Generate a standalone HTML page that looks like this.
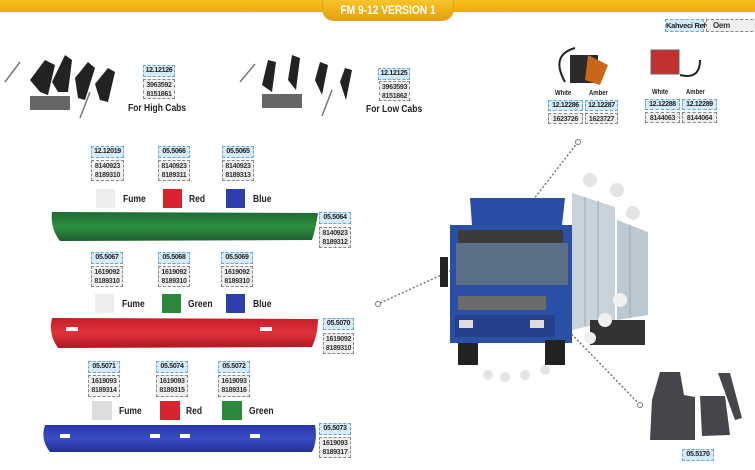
<!DOCTYPE html>
<html><head><meta charset="utf-8"><style>
*{margin:0;padding:0;box-sizing:border-box}
body{width:755px;height:470px;background:#fff;position:relative;overflow:hidden;font-family:"Liberation Sans",sans-serif}
.a{position:absolute}
.b{position:absolute;background:#d6ebfa;border:1px dashed #6aa6d6;font-size:7px;letter-spacing:-.3px;text-align:center;line-height:10px;color:#222;font-weight:bold;white-space:nowrap}
.g{position:absolute;background:#efefef;border:1px dashed #888;font-size:7px;letter-spacing:-.3px;text-align:center;line-height:9px;color:#333;font-weight:bold;padding-top:1px;white-space:nowrap}
.t{position:absolute;font-size:10px;font-weight:bold;color:#222;transform:scaleX(.85);transform-origin:left;white-space:nowrap}
.s{position:absolute;width:19px;height:19px}
</style></head><body>
<div class="a" style="left:0;top:0;width:755px;height:12px;background:linear-gradient(#f7c21b,#f3a90d)"></div>
<div class="a" style="left:322px;top:0;width:132px;height:21px;background:linear-gradient(#f7c52a,#e8a008);border:1px solid #d9a33a;border-top:none;border-radius:0 0 12px 12px;color:#fff;font-weight:bold;font-size:12px;text-align:center;line-height:21px"><span style="display:inline-block;transform:scaleX(.85)">FM 9-12 VERSION 1</span></div>
<div class="b" style="left:665px;top:19px;width:39px;height:13px;font-size:7.5px;line-height:11px">Kahveci Ref.</div>
<div class="g" style="left:706px;top:19px;width:52px;height:13px;font-size:8px;line-height:10px;text-align:left;padding-left:6px">Oem</div>

<svg class="a" style="left:0;top:0" width="755" height="470">
<g fill="#222">
<polygon points="30,80 45,60 55,65 48,95 40,92"/><polygon points="52,82 65,55 72,60 68,92 58,92"/>
<polygon points="75,78 88,62 95,68 85,100 78,98"/><polygon points="95,84 108,68 115,72 108,102 100,100"/>
<polygon points="262,85 268,60 276,62 272,92"/><polygon points="288,80 292,55 300,58 296,90"/>
<polygon points="315,80 320,62 328,65 322,95"/><polygon points="340,82 345,68 352,70 346,100"/>
<rect x="30" y="96" width="40" height="14" fill="#666"/><rect x="262" y="94" width="40" height="14" fill="#666"/>
</g>
<g stroke="#777" stroke-width="1.5"><line x1="5" y1="82" x2="20" y2="62"/><line x1="80" y1="118" x2="90" y2="92"/><line x1="240" y1="82" x2="255" y2="64"/><line x1="322" y1="116" x2="332" y2="90"/></g>
<path d="M565 82 Q550 55 575 48" stroke="#222" fill="none" stroke-width="2"/>
<rect x="570" y="55" width="28" height="28" fill="#2a2a2a"/><polygon points="588,55 608,65 600,85 585,80" fill="#c8661a"/>
<rect x="651" y="50" width="28" height="24" fill="#c23030" stroke="#666"/><path d="M680 75 Q700 80 700 60" stroke="#222" fill="none" stroke-width="2"/>
<g stroke="#666" stroke-dasharray="2,2" fill="none" stroke-width="1.3"><line x1="380" y1="303" x2="470" y2="262"/><line x1="578" y1="142" x2="516" y2="222"/><line x1="505" y1="265" x2="640" y2="405"/></g>
<circle cx="378" cy="304" r="2.5" fill="#fff" stroke="#777"/><circle cx="640" cy="405" r="2.5" fill="#fff" stroke="#777"/><circle cx="578" cy="142" r="2.5" fill="#fff" stroke="#777"/>
<g fill="#e4e4e4"><circle cx="590" cy="180" r="7"/><circle cx="617" cy="190" r="7"/><circle cx="633" cy="213" r="7"/><circle cx="488" cy="375" r="5"/><circle cx="505" cy="377" r="5"/><circle cx="525" cy="375" r="5"/><circle cx="545" cy="370" r="5"/></g>
<polygon points="572,193 615,207 615,320 572,330" fill="#c9d3dc"/><polygon points="617,220 648,232 648,315 617,320" fill="#bcc8d2"/>
<g stroke="#9aa8b4"><line x1="585" y1="197" x2="585" y2="326"/><line x1="598" y1="201" x2="598" y2="324"/><line x1="630" y1="225" x2="630" y2="318"/></g>
<rect x="590" y="320" width="55" height="25" fill="#333"/>
<polygon points="470,198 565,198 562,225 472,225" fill="#2a4ea8"/>
<rect x="450" y="225" width="122" height="118" fill="#2c4fa6"/>
<rect x="458" y="230" width="105" height="13" fill="#3d3a3a"/>
<rect x="456" y="243" width="112" height="42" fill="#5b6f86"/>
<rect x="458" y="296" width="88" height="14" fill="#6b6b6b"/>
<rect x="455" y="315" width="100" height="22" fill="#25418c"/>
<rect x="459" y="320" width="14" height="8" fill="#ddd"/><rect x="530" y="320" width="14" height="8" fill="#ddd"/>
<rect x="440" y="257" width="8" height="30" fill="#222"/>
<rect x="458" y="343" width="20" height="22" fill="#222"/><rect x="545" y="340" width="20" height="25" fill="#222"/>
<g fill="#f0f0f0"><circle cx="620" cy="300" r="7"/><circle cx="605" cy="320" r="7"/><circle cx="590" cy="338" r="6"/></g>
<path d="M660 372 L680 372 L684 395 L695 397 L695 440 L650 440 L652 400 Z" fill="#45464c"/>
<path d="M700 396 L725 396 L730 435 L702 436 Z" fill="#45464c"/>
<path d="M718 373 L730 373 L742 418 L735 420 Z" fill="#45464c"/>
<defs>
<linearGradient id="gg" x1="0" y1="0" x2="0" y2="1"><stop offset="0" stop-color="#1f6a32"/><stop offset=".5" stop-color="#2f8f40"/><stop offset="1" stop-color="#1d5e2c"/></linearGradient>
<linearGradient id="rr" x1="0" y1="0" x2="0" y2="1"><stop offset="0" stop-color="#c41d26"/><stop offset=".5" stop-color="#e0323a"/><stop offset="1" stop-color="#b0161f"/></linearGradient>
<linearGradient id="bb" x1="0" y1="0" x2="0" y2="1"><stop offset="0" stop-color="#2838a8"/><stop offset=".5" stop-color="#3a4cc4"/><stop offset="1" stop-color="#222f95"/></linearGradient>
</defs>
<path d="M52 212 L318 213 Q316 228 312 240 L60 241 Q50 228 52 212 Z" fill="url(#gg)"/>
<path d="M52 318 L318 319 Q318 334 312 347 L58 348 Q48 334 52 318 Z" fill="url(#rr)"/>
<path d="M45 425 L315 425 Q318 440 312 452 L50 452 Q40 440 45 425 Z" fill="url(#bb)"/>
<g fill="#fff"><rect x="66" y="327" width="12" height="4"/><rect x="260" y="327" width="12" height="4"/><rect x="60" y="434" width="10" height="4"/><rect x="150" y="434" width="10" height="4"/><rect x="180" y="434" width="10" height="4"/><rect x="250" y="434" width="10" height="4"/></g>
</svg>

<div class="b" style="left:143px;top:65px;width:32px;height:12px">12.12126</div>
<div class="g" style="left:143px;top:79px;width:32px;height:20px">3963592<br>8151861</div>
<div class="t" style="left:128px;top:103px">For High Cabs</div>
<div class="b" style="left:378px;top:68px;width:32px;height:12px">12.12125</div>
<div class="g" style="left:379px;top:81px;width:31px;height:20px">3963593<br>8151862</div>
<div class="t" style="left:366px;top:104px">For Low Cabs</div>

<div class="t" style="left:555px;top:90px;font-size:7px">White</div><div class="t" style="left:589px;top:90px;font-size:7px">Amber</div>
<div class="b" style="left:548px;top:100px;width:35px;height:11px">12.12286</div><div class="b" style="left:585px;top:100px;width:33px;height:11px">12.12287</div>
<div class="g" style="left:548px;top:113px;width:35px;height:11px">1623726</div><div class="g" style="left:585px;top:113px;width:33px;height:11px">1623727</div>
<div class="t" style="left:652px;top:89px;font-size:7px">White</div><div class="t" style="left:686px;top:89px;font-size:7px">Amber</div>
<div class="b" style="left:645px;top:99px;width:35px;height:11px">12.12288</div><div class="b" style="left:682px;top:99px;width:35px;height:11px">12.12289</div>
<div class="g" style="left:645px;top:112px;width:35px;height:11px">8144063</div><div class="g" style="left:682px;top:112px;width:35px;height:11px">8144064</div>

<div class="b" style="left:91px;top:146px;width:33px;height:12px">12.12019</div>
<div class="b" style="left:158px;top:146px;width:32px;height:12px">05.5066</div>
<div class="b" style="left:222px;top:146px;width:32px;height:12px">05.5065</div>
<div class="g" style="left:91px;top:160px;width:33px;height:21px">8140923<br>8189310</div>
<div class="g" style="left:158px;top:160px;width:32px;height:21px">8140923<br>8189311</div>
<div class="g" style="left:222px;top:160px;width:32px;height:21px">8140923<br>8189313</div>
<div class="s" style="left:96px;top:189px;background:#eee"></div><div class="t" style="left:123px;top:194px">Fume</div>
<div class="s" style="left:163px;top:189px;background:#d9232f"></div><div class="t" style="left:189px;top:194px">Red</div>
<div class="s" style="left:226px;top:189px;background:#2d3ead"></div><div class="t" style="left:253px;top:194px">Blue</div>
<div class="b" style="left:319px;top:212px;width:32px;height:12px">05.5064</div>
<div class="g" style="left:319px;top:227px;width:32px;height:21px">8140923<br>8189312</div>

<div class="b" style="left:91px;top:252px;width:32px;height:12px">05.5067</div>
<div class="b" style="left:158px;top:252px;width:32px;height:12px">05.5068</div>
<div class="b" style="left:221px;top:252px;width:32px;height:12px">05.5069</div>
<div class="g" style="left:91px;top:266px;width:32px;height:21px">1619092<br>8189310</div>
<div class="g" style="left:158px;top:266px;width:32px;height:21px">1619092<br>8189310</div>
<div class="g" style="left:221px;top:266px;width:32px;height:21px">1619092<br>8189310</div>
<div class="s" style="left:95px;top:294px;background:#eee"></div><div class="t" style="left:122px;top:299px">Fume</div>
<div class="s" style="left:162px;top:294px;background:#2a8a3c"></div><div class="t" style="left:188px;top:299px">Green</div>
<div class="s" style="left:226px;top:294px;background:#2d3ead"></div><div class="t" style="left:253px;top:299px">Blue</div>
<div class="b" style="left:323px;top:318px;width:31px;height:12px">05.5070</div>
<div class="g" style="left:323px;top:333px;width:31px;height:21px">1619092<br>8189310</div>

<div class="b" style="left:88px;top:361px;width:32px;height:12px">05.5071</div>
<div class="b" style="left:156px;top:361px;width:32px;height:12px">05.5074</div>
<div class="b" style="left:218px;top:361px;width:32px;height:12px">05.5072</div>
<div class="g" style="left:88px;top:375px;width:32px;height:22px">1619093<br>8189314</div>
<div class="g" style="left:156px;top:375px;width:32px;height:22px">1619093<br>8189315</div>
<div class="g" style="left:218px;top:375px;width:32px;height:22px">1619093<br>8189316</div>
<div class="s" style="left:92px;top:401px;width:20px;background:#ddd"></div><div class="t" style="left:119px;top:406px">Fume</div>
<div class="s" style="left:160px;top:401px;width:20px;background:#d9232f"></div><div class="t" style="left:186px;top:406px">Red</div>
<div class="s" style="left:222px;top:401px;width:20px;background:#2a8a3c"></div><div class="t" style="left:249px;top:406px">Green</div>
<div class="b" style="left:319px;top:423px;width:32px;height:12px">05.5073</div>
<div class="g" style="left:319px;top:437px;width:32px;height:21px">1619093<br>8189317</div>
<div class="b" style="left:682px;top:449px;width:32px;height:12px">05.5170</div>
</body></html>
